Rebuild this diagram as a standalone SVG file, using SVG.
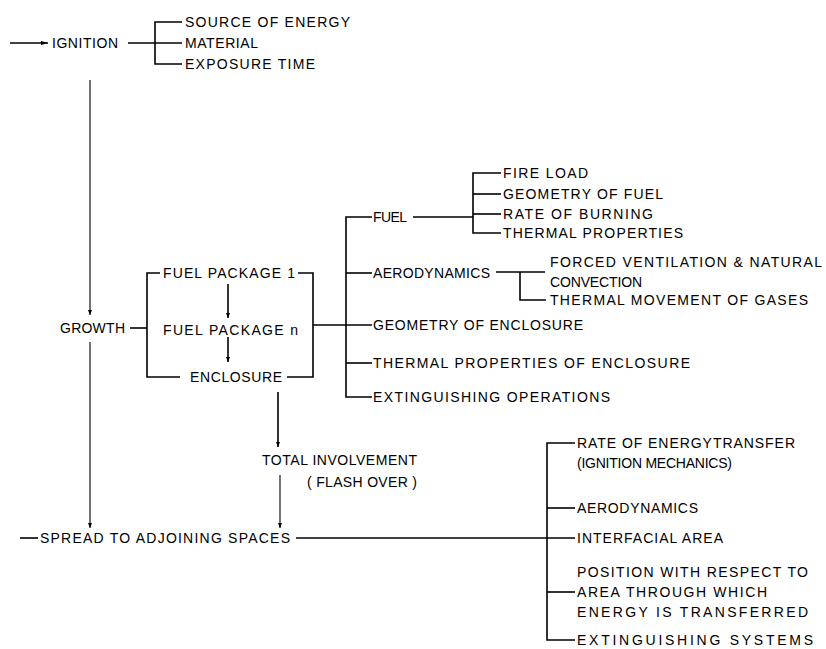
<svg xmlns="http://www.w3.org/2000/svg" width="826" height="649" viewBox="0 0 826 649">
<defs>
<style>
text{font-family:"Liberation Sans","DejaVu Sans",Arial,sans-serif;font-size:14px;fill:#000}
.l{fill:none;stroke:#000;stroke-width:1.6}
.t{fill:none;stroke:#000;stroke-width:1.1}
</style>
<marker id="ah" viewBox="0 0 10 10" refX="10" refY="5" markerWidth="5" markerHeight="12" markerUnits="userSpaceOnUse" orient="auto">
<path d="M0,1 L10,5 L0,9 Z" fill="#000"/>
</marker>
<marker id="ahl" viewBox="0 0 10 10" refX="10" refY="5" markerWidth="14" markerHeight="7" markerUnits="userSpaceOnUse" orient="auto">
<path d="M0,2 L10,5 L0,8 Z" fill="#000"/>
</marker>
</defs>
<rect width="826" height="649" fill="#fff"/>
<g id="connectors">
<line class="l" x1="10" y1="43" x2="48" y2="43" marker-end="url(#ahl)"/>
<line class="l" x1="128" y1="43" x2="182" y2="43"/>
<path class="l" d="M182,22 H155 V64 H182"/>
<line class="t" x1="90" y1="80" x2="90" y2="315" marker-end="url(#ah)"/>
<line class="t" x1="90" y1="342" x2="90" y2="528" marker-end="url(#ah)"/>
<line class="l" x1="130" y1="328" x2="147" y2="328"/>
<path class="l" d="M160,273 H147 V377 H180"/>
<path class="l" d="M298,273 H313 V377 H287"/>
<line class="l" x1="228" y1="284" x2="228" y2="318" marker-end="url(#ah)"/>
<line class="l" x1="228" y1="337" x2="228" y2="362" marker-end="url(#ah)"/>
<line class="l" x1="313" y1="325" x2="372" y2="325"/>
<path class="l" d="M372,217 H346 V397 H372"/>
<line class="l" x1="346" y1="273" x2="372" y2="273"/>
<line class="l" x1="346" y1="363" x2="372" y2="363"/>
<line class="l" x1="413" y1="217" x2="473" y2="217"/>
<path class="l" d="M501,173 H473 V233 H501"/>
<line class="l" x1="473" y1="194" x2="501" y2="194"/>
<line class="l" x1="473" y1="214" x2="501" y2="214"/>
<line class="l" x1="496" y1="272" x2="545" y2="272"/>
<path class="l" d="M520,272 V300 H546"/>
<line class="l" x1="278" y1="392" x2="278" y2="447" marker-end="url(#ah)"/>
<line class="t" x1="280" y1="475" x2="280" y2="528" marker-end="url(#ah)"/>
<line class="l" x1="20" y1="538" x2="38" y2="538"/>
<line class="l" x1="296" y1="538" x2="575" y2="538"/>
<path class="l" d="M575,443 H547 V640 H575"/>
<line class="l" x1="547" y1="508" x2="575" y2="508"/>
<line class="l" x1="547" y1="592" x2="575" y2="592"/>
</g>
<g id="ignition"><text x="52" y="48" textLength="66" lengthAdjust="spacing">IGNITION</text></g>
<g id="ignition-factors">
<text x="185" y="27" textLength="165" lengthAdjust="spacing">SOURCE OF ENERGY</text>
<text x="185" y="48" textLength="73" lengthAdjust="spacing">MATERIAL</text>
<text x="185" y="69" textLength="130" lengthAdjust="spacing">EXPOSURE TIME</text>
</g>
<g id="growth"><text x="60" y="333" textLength="65" lengthAdjust="spacing">GROWTH</text></g>
<g id="fuel-package-1"><text x="163" y="278" textLength="132" lengthAdjust="spacing">FUEL PACKAGE 1</text></g>
<g id="fuel-package-n"><text x="163" y="335" textLength="135" lengthAdjust="spacing">FUEL PACKAGE n</text></g>
<g id="enclosure"><text x="190" y="382" textLength="92" lengthAdjust="spacing">ENCLOSURE</text></g>
<g id="fuel"><text x="373" y="222" textLength="34" lengthAdjust="spacing">FUEL</text></g>
<g id="fuel-factors">
<text x="503" y="178" textLength="85" lengthAdjust="spacing">FIRE LOAD</text>
<text x="503" y="199" textLength="160" lengthAdjust="spacing">GEOMETRY OF FUEL</text>
<text x="503" y="219" textLength="150" lengthAdjust="spacing">RATE OF BURNING</text>
<text x="503" y="238" textLength="180" lengthAdjust="spacing">THERMAL PROPERTIES</text>
</g>
<g id="aerodynamics"><text x="373" y="278" textLength="117" lengthAdjust="spacing">AERODYNAMICS</text></g>
<g id="aero-factors">
<text x="550" y="267" textLength="272" lengthAdjust="spacing">FORCED VENTILATION &amp; NATURAL</text>
<text x="550" y="287" textLength="92" lengthAdjust="spacing">CONVECTION</text>
<text x="550" y="305" textLength="258" lengthAdjust="spacing">THERMAL MOVEMENT OF GASES</text>
</g>
<g id="geometry-enclosure"><text x="373" y="330" textLength="210" lengthAdjust="spacing">GEOMETRY OF ENCLOSURE</text></g>
<g id="thermal-enclosure"><text x="373" y="368" textLength="317" lengthAdjust="spacing">THERMAL PROPERTIES OF ENCLOSURE</text></g>
<g id="extinguishing-operations"><text x="373" y="402" textLength="237" lengthAdjust="spacing">EXTINGUISHING OPERATIONS</text></g>
<g id="total-involvement">
<text x="262" y="465" textLength="155" lengthAdjust="spacing">TOTAL INVOLVEMENT</text>
<text x="307" y="487" textLength="110" lengthAdjust="spacing">( FLASH OVER )</text>
</g>
<g id="spread"><text x="40" y="543" textLength="250" lengthAdjust="spacing">SPREAD TO ADJOINING SPACES</text></g>
<g id="spread-factors">
<text x="577" y="448" textLength="218" lengthAdjust="spacing">RATE OF ENERGYTRANSFER</text>
<text x="577" y="468" textLength="155" lengthAdjust="spacing">(IGNITION MECHANICS)</text>
<text x="577" y="513" textLength="121" lengthAdjust="spacing">AERODYNAMICS</text>
<text x="577" y="543" textLength="146" lengthAdjust="spacing">INTERFACIAL AREA</text>
<text x="577" y="577" textLength="231" lengthAdjust="spacing">POSITION WITH RESPECT TO</text>
<text x="577" y="597" textLength="190" lengthAdjust="spacing">AREA THROUGH WHICH</text>
<text x="577" y="617" textLength="231" lengthAdjust="spacing">ENERGY IS TRANSFERRED</text>
<text x="577" y="645" textLength="236" lengthAdjust="spacing">EXTINGUISHING SYSTEMS</text>
</g>
</svg>
